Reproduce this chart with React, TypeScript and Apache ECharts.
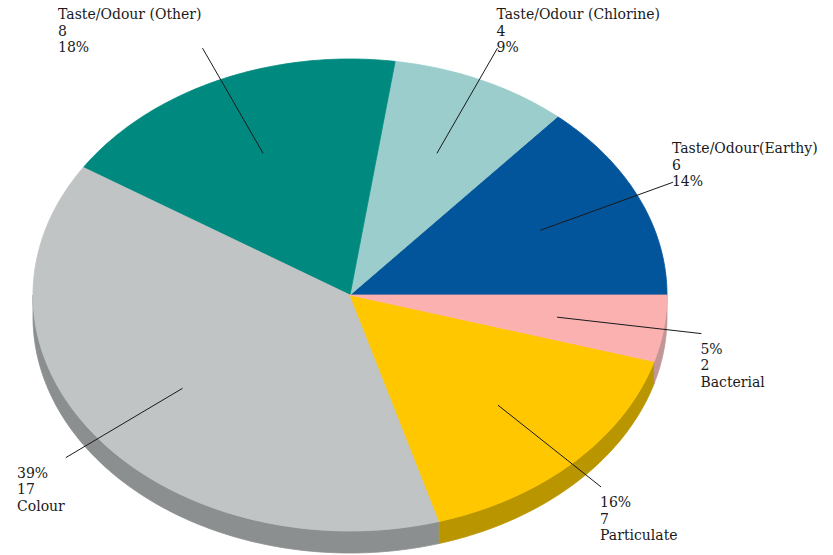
import React, { useEffect, useRef } from "react";
import * as echarts from "echarts";

const names = [
  "Taste/Odour(Earthy)",
  "Taste/Odour (Chlorine)",
  "Taste/Odour (Other)",
  "Colour",
  "Particulate",
  "Bacterial",
];
const values = [6, 4, 8, 17, 7, 2];
const topColors = ["#02559a", "#9bcdcc", "#008a7f", "#c1c4c5", "#fec700", "#fcb1b1"];
const sideColors = ["#013a6b", "#6f9998", "#005f57", "#8c8f8f", "#b99500", "#c29596"];

const CX = 350;
const CY = 295;
const RX = 317;
const RY = 236;
const DEPTH = 22;
const FONT_SIZE = 14;
const FONT = `${FONT_SIZE}px "DejaVu Serif"`;
const LINE_H = 16.4;

const total = values.reduce((a, b) => a + b, 0);
const starts: number[] = [];
{
  let acc = 0;
  for (const v of values) {
    starts.push((acc / total) * 360);
    acc += v;
  }
}
const angleRange = (i: number) => [starts[i], starts[i] + (values[i] / total) * 360];
const rad = (d: number) => (d * Math.PI) / 180;
const pt = (deg: number, fx: number, fy: number, dy = 0) => [
  CX + RX * fx * Math.cos(rad(deg)),
  CY - RY * fy * Math.sin(rad(deg)) + dy,
];
const arc = (a0: number, a1: number, dy: number) => {
  const n = Math.max(2, Math.ceil(a1 - a0));
  const pts: number[][] = [];
  for (let k = 0; k <= n; k++) pts.push(pt(a0 + ((a1 - a0) * k) / n, 1, 1, dy));
  return pts;
};

let measureCtx: CanvasRenderingContext2D | null = null;
const measure = (s: string) => {
  if (!measureCtx) measureCtx = document.createElement("canvas").getContext("2d");
  if (!measureCtx) return s.length * FONT_SIZE * 0.6;
  measureCtx.font = FONT;
  return measureCtx.measureText(s).width;
};

export default function App() {
  const ref = useRef<HTMLDivElement>(null);
  useEffect(() => {
    if (!ref.current) return;
    const chart = echarts.init(ref.current, undefined, { renderer: "svg" });
    const data = values.map((v) => v);
    chart.setOption({
      animation: false,
      backgroundColor: "#ffffff",
      series: [
        {
          type: "custom",
          coordinateSystem: "none",
          silent: true,
          z: 1,
          data,
          renderItem: (params: any) => {
            const i = params.dataIndex;
            const [a0, a1] = angleRange(i);
            const s = Math.max(a0, 180);
            const e = Math.min(a1, 360);
            if (e <= s) return { type: "group", children: [] };
            const top = arc(s, e, 0);
            const bottom = arc(s, e, DEPTH).reverse();
            return {
              type: "polygon",
              shape: { points: top.concat(bottom) },
              style: { fill: sideColors[i], stroke: sideColors[i], lineWidth: 0.8 },
            };
          },
        },
        {
          type: "custom",
          coordinateSystem: "none",
          silent: true,
          z: 2,
          data,
          renderItem: (params: any) => {
            const i = params.dataIndex;
            const [a0, a1] = angleRange(i);
            const pts = [[CX, CY]].concat(arc(a0, a1, 0));
            return {
              type: "polygon",
              shape: { points: pts },
              style: { fill: topColors[i], stroke: topColors[i], lineWidth: 0.8 },
            };
          },
        },
        {
          type: "custom",
          coordinateSystem: "none",
          silent: true,
          z: 3,
          data,
          renderItem: (params: any) => {
            const i = params.dataIndex;
            const [a0, a1] = angleRange(i);
            const mid = (a0 + a1) / 2;
            const inner = pt(mid, 0.66, 0.66);
            const outer = pt(mid, 1.12, 1.15);
            const pct = Math.round((values[i] / total) * 100) + "%";
            const upper = Math.sin(rad(mid)) > 0;
            const lines = upper
              ? [names[i], String(values[i]), pct]
              : [pct, String(values[i]), names[i]];
            const w = Math.max(...lines.map(measure));
            const left = Math.cos(rad(mid)) < 0;
            const tx = left ? outer[0] - 1 - w : outer[0] - 1;
            const ty = upper ? outer[1] - 42 : outer[1] + 7;
            return {
              type: "group",
              children: [
                {
                  type: "line",
                  shape: { x1: inner[0], y1: inner[1], x2: outer[0], y2: outer[1] },
                  style: { stroke: "#1a1a1a", lineWidth: 1 },
                },
                {
                  type: "text",
                  style: {
                    text: lines.join("\n"),
                    x: tx,
                    y: ty,
                    font: FONT,
                    fill: "#1a1a1a",
                    lineHeight: LINE_H,
                    align: "left",
                    verticalAlign: "top",
                  },
                },
              ],
            };
          },
        },
      ],
    });
    return () => chart.dispose();
  }, []);
  return (
    <div
      ref={ref}
      style={{ position: "fixed", left: 0, top: 0, width: 833, height: 555 }}
    />
  );
}
